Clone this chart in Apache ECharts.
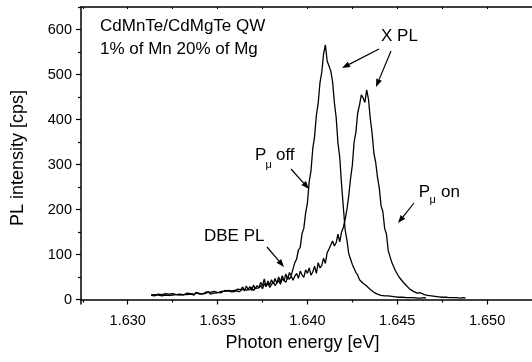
<!DOCTYPE html>
<html>
<head>
<meta charset="utf-8">
<script src="https://cdn.jsdelivr.net/npm/echarts@6/dist/echarts.min.js"></script>
<style>
html,body{margin:0;padding:0;background:#fff;}
#chart{width:532px;height:362px;}
</style>
</head>
<body>
<div id="chart"></div>
<script>
// Photon energy grid [eV]
const energy = [
1.6313,1.6314,1.6315,1.6316,1.6317,1.6318,1.6319,1.6320,1.6321,1.6322,
1.6323,1.6324,1.6325,1.6326,1.6327,1.6328,1.6329,1.6330,1.6331,1.6332,
1.6333,1.6334,1.6335,1.6336,1.6337,1.6338,1.6339,1.6340,1.6341,1.6342,
1.6343,1.6344,1.6345,1.6346,1.6347,1.6348,1.6349,1.6350,1.6351,1.6352,
1.6353,1.6354,1.6355,1.6356,1.6357,1.6358,1.6359,1.6360,1.6361,1.6362,
1.6363,1.6364,1.6365,1.6366,1.6367,1.6368,1.6369,1.6370,1.6371,1.6372,
1.6373,1.6374,1.6375,1.6376,1.6377,1.6378,1.6379,1.6380,1.6381,1.6382,
1.6383,1.6384,1.6385,1.6386,1.6387,1.6388,1.6389,1.6390,1.6391,1.6392,
1.6393,1.6394,1.6395,1.6396,1.6397,1.6398,1.6399,1.6400,1.6401,1.6402,
1.6403,1.6404,1.6405,1.6406,1.6407,1.6408,1.6409,1.6410,1.6411,1.6412,
1.6413,1.6414,1.6415,1.6416,1.6417,1.6418,1.6419,1.6420,1.6421,1.6422,
1.6423,1.6424,1.6425,1.6426,1.6427,1.6428,1.6429,1.6430,1.6431,1.6432,
1.6433,1.6434,1.6435,1.6436,1.6437,1.6438,1.6439,1.6440,1.6441,1.6442,
1.6443,1.6444,1.6445,1.6446,1.6447,1.6448,1.6449,1.6450,1.6451,1.6452,
1.6453,1.6454,1.6455,1.6456,1.6457,1.6458,1.6459,1.6460,1.6461,1.6462,
1.6463,1.6464,1.6465,1.6466,1.6467,1.6468,1.6469,1.6470,1.6471,1.6472,
1.6473,1.6474,1.6475,1.6476,1.6477,1.6478,1.6479,1.6480,1.6481,1.6482,
1.6483,1.6484,1.6485,1.6486,1.6487,1.6488
];
// PL intensity [cps], P_mu off
const plOff = [
9,11,8,10,12,9,11,10,13,9,
12,10,13,9,11,14,10,12,11,13,
11,15,12,14,10,16,13,12,15,13,
14,17,13,16,15,18,14,16,19,15,
17,20,16,19,22,17,21,18,23,19,
22,28,19,30,22,29,20,32,24,31,
26,38,30,46,28,41,32,44,35,47,
36,50,39,53,41,57,45,60,53,68,
82,90,110,116,146,158,192,214,262,286,
336,362,410,436,482,505,546,566,530,526,
508,485,438,405,348,316,256,205,155,132,
102,90,78,76,60,54,44,43,36,35,
30,27,22,20,16,15,12,11,9,9,
8,7,8,6,7,5,6,5,5,4,
5,4,4,3,4,3,4,3,3,4,
3,3,4,3
];
// PL intensity [cps], P_mu on
const plOn = [
10,8,11,9,10,12,8,11,10,12,
9,12,10,13,11,9,12,14,10,12,
14,11,13,16,12,11,15,13,12,16,
13,15,17,12,16,14,17,15,13,18,
16,18,15,20,17,19,16,21,18,17,
19,23,26,21,24,22,27,20,25,28,
26,31,24,35,30,36,27,33,39,31,
37,42,34,46,44,38,50,45,52,43,
52,58,47,63,55,49,66,58,70,54,
61,74,58,82,70,76,92,80,104,112,
108,130,119,126,145,128,150,160,178,200,
230,268,298,350,372,415,432,455,448,438,
466,445,402,370,325,305,272,248,208,195,
158,145,108,104,82,80,64,62,50,47,
40,37,31,28,23,21,18,17,14,13,
15,12,11,14,9,10,8,9,7,8,
6,7,5,6,5,6,4,5,4,5,
4,5,3,4,4,3
];
const xMajor = [1.630,1.635,1.640,1.645,1.650];
const xMinor = [1.6275,1.6325,1.6375,1.6425,1.6475];
const yMajor = [0,100,200,300,400,500,600];
const yMinor = [50,150,250,350,450,550,650];

const FONT = 'Liberation Sans, Arial, sans-serif';
const chart = echarts.init(document.getElementById('chart'), null, {renderer:'canvas'});

function arrow(x1,y1,x2,y2){
  const dx=x2-x1, dy=y2-y1, L=Math.sqrt(dx*dx+dy*dy);
  const ux=dx/L, uy=dy/L, hl=8, hw=3;
  const bx=x2-ux*hl, by=y2-uy*hl;
  return [
    {type:'line', shape:{x1:x1,y1:y1,x2:bx,y2:by}, style:{stroke:'#000',lineWidth:1.2}},
    {type:'polygon', shape:{points:[[x2,y2],[bx-uy*hw,by+ux*hw],[bx+uy*hw,by-ux*hw]]}, style:{fill:'#000'}}
  ];
}
function txt(s,x,y,size,extra){
  return Object.assign({type:'text', x:x, y:y, style:{text:s, fill:'#000', font: size+'px '+FONT, textAlign:'left', textVerticalAlign:'middle'}}, extra||{});
}
const AF = 17;
const graphics = [].concat(
  [txt('CdMnTe/CdMgTe QW',100,26.5,AF), txt('1% of Mn 20% of Mg',100,49,AF)],
  [txt('X PL',381,36.5,AF)],
  arrow(379,49,342,68), arrow(391,51,376,87),
  [txt('P',255,155,AF), txt('\u03bc',265.5,165,11), txt('off',276,155,AF)],
  arrow(291,169,309,189),
  [txt('DBE PL',204,236.3,AF)],
  arrow(267,247,284,267),
  [txt('P',418.7,192,AF), txt('\u03bc',429.5,200,11), txt('on',441,192,AF)],
  arrow(414,203,398,223),
  [
    {type:'text', x:302.5, y:343, style:{text:'Photon energy [eV]', fill:'#000', font:'18px '+FONT, textAlign:'center', textVerticalAlign:'middle'}},
    {type:'text', x:18, y:158, rotation:Math.PI/2, style:{text:'PL intensity [cps]', fill:'#000', font:'18px '+FONT, textAlign:'center', textVerticalAlign:'middle'}}
  ]
);

const XMIN=1.6274, XMAX=1.6525, YMIN=-10, YMAX=650;
const axisLineStyle = {show:true, lineStyle:{color:'#000', width:1.5}};
const option = {
  animation:false,
  backgroundColor:'#fff',
  grid:{left:81, top:7, width:457, height:297, containLabel:false},
  xAxis:[
    {type:'value', position:'bottom', min:XMIN, max:XMAX, axisLine:axisLineStyle,
     axisTick:{show:true, inside:false, length:5, customValues:xMajor, lineStyle:{color:'#000',width:1.2}},
     axisLabel:{show:true, customValues:xMajor, margin:9, color:'#000', fontSize:14.5, fontFamily:FONT, formatter:v=>Number(v).toFixed(3)},
     splitLine:{show:false}},
    {type:'value', position:'bottom', min:XMIN, max:XMAX, axisLine:{show:false},
     axisTick:{show:true, inside:false, length:3, customValues:xMinor, lineStyle:{color:'#000',width:1.2}},
     axisLabel:{show:false}, splitLine:{show:false}},
    {type:'value', position:'top', min:XMIN, max:XMAX, axisLine:axisLineStyle,
     axisTick:{show:true, inside:true, length:2, customValues:xMajor.concat(xMinor), lineStyle:{color:'#000',width:1}},
     axisLabel:{show:false}, splitLine:{show:false}}
  ],
  yAxis:[
    {type:'value', position:'left', min:YMIN, max:YMAX, axisLine:axisLineStyle,
     axisTick:{show:true, inside:false, length:5, customValues:yMajor, lineStyle:{color:'#000',width:1.2}},
     axisLabel:{show:true, customValues:yMajor, margin:9, color:'#000', fontSize:14.5, fontFamily:FONT},
     splitLine:{show:false}},
    {type:'value', position:'left', min:YMIN, max:YMAX, axisLine:{show:false},
     axisTick:{show:true, inside:false, length:3, customValues:yMinor, lineStyle:{color:'#000',width:1.2}},
     axisLabel:{show:false}, splitLine:{show:false}}
  ],
  series:[
    {type:'line', name:'P_mu off', xAxisIndex:0, yAxisIndex:0, showSymbol:false, symbol:'none',
     lineStyle:{color:'#000', width:1.3}, data: plOff.map((v,i)=>[energy[i], v])},
    {type:'line', name:'P_mu on', xAxisIndex:0, yAxisIndex:0, showSymbol:false, symbol:'none',
     lineStyle:{color:'#000', width:1.3}, data: plOn.map((v,i)=>[energy[i], v])}
  ],
  graphic: graphics
};
chart.setOption(option);
</script>
</body>
</html>
